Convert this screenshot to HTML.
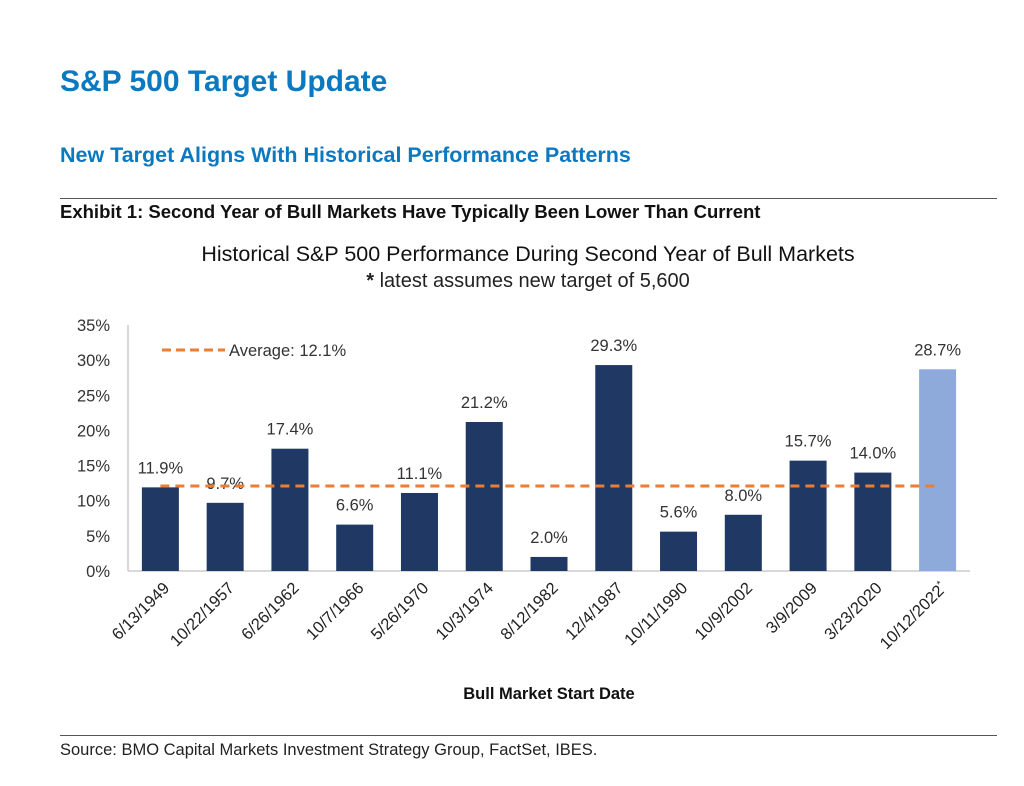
<!DOCTYPE html>
<html><head><meta charset="utf-8"><style>
body{margin:0;background:#fff;width:1024px;height:786px;overflow:hidden;font-family:"Liberation Sans","DejaVu Sans",sans-serif;}
.t{position:absolute;white-space:nowrap;}
</style></head><body>
<div class="t" style="left:60px;top:65px;font-size:30px;font-weight:bold;color:#0b79bf;">S&amp;P 500 Target Update</div>
<div class="t" style="left:60px;top:143px;font-size:21.5px;font-weight:bold;color:#0b79bf;">New Target Aligns With Historical Performance Patterns</div>
<div style="position:absolute;left:60px;top:198px;width:937px;height:1px;background:#555;"></div>
<div class="t" style="left:60px;top:201px;font-size:18.5px;font-weight:bold;color:#111;">Exhibit 1: Second Year of Bull Markets Have Typically Been Lower Than Current</div>
<div class="t" style="left:0;width:1056px;text-align:center;top:242px;font-size:21.5px;color:#111;">Historical S&amp;P 500 Performance During Second Year of Bull Markets</div>
<div class="t" style="left:0;width:1056px;text-align:center;top:270px;font-size:20px;color:#222;"><b>*</b> latest assumes new target of 5,600</div>
<svg id="c" width="1024" height="786" style="position:absolute;left:0;top:0"></svg>
<div style="position:absolute;left:60px;top:735px;width:937px;height:1px;background:#555;"></div>
<div class="t" style="left:60px;top:741px;font-size:16.5px;color:#222;">Source: BMO Capital Markets Investment Strategy Group, FactSet, IBES.</div>
<script>
const categories=["6/13/1949","10/22/1957","6/26/1962","10/7/1966","5/26/1970","10/3/1974","8/12/1982","12/4/1987","10/11/1990","10/9/2002","3/9/2009","3/23/2020","10/12/2022*"];
const values=[11.9,9.7,17.4,6.6,11.1,21.2,2.0,29.3,5.6,8.0,15.7,14.0,28.7];
const average=[12.1];
const yTicks=[0,5,10,15,20,25,30,35];
const NS="http://www.w3.org/2000/svg";
const svg=document.getElementById('c');
const x0=128,x1=970,y0=571,pxPer=(571-325)/35;
const band=(x1-x0)/categories.length;
function xc(i){return x0+band*(i+0.5);}
function y(v){return y0-v*pxPer;}
function mk(t,a){const e=document.createElementNS(NS,t);for(const k in a)e.setAttribute(k,a[k]);svg.appendChild(e);return e;}
let ax=mk('line',{x1:x0,y1:325,x2:x0,y2:y0,stroke:'#ccc','stroke-width':1.5});

let bx=mk('line',{x1:x0,y1:y0,x2:x1,y2:y0,stroke:'#ccc','stroke-width':1.5});

yTicks.forEach(v=>{const t=mk('text',{x:110,y:y(v)+6,'text-anchor':'end','font-size':16.5,fill:'#333'});t.textContent=v+'%';
});
values.forEach((v,i)=>{
const last=i===values.length-1;
const r=mk('rect',{x:xc(i)-18.5,y:y(v),width:37,height:y0-y(v),fill:last?'#8eaadb':'#203864'});

const t=mk('text',{x:xc(i),y:y(v)-14,'text-anchor':'middle','font-size':16.5,fill:'#333'});t.textContent=v.toFixed(1)+'%';

const c=mk('text',{x:0,y:0,'text-anchor':'end','font-size':16.5,fill:'#222',transform:`translate(${xc(i)+10},${y0+18}) rotate(-45)`});
const lab=categories[i];
if(lab.endsWith('*')){c.textContent=lab.slice(0,-1);const s=document.createElementNS(NS,'tspan');s.setAttribute('font-size','10');s.setAttribute('dy','-6');s.textContent='*';c.appendChild(s);}else c.textContent=lab;

});
const avg=mk('line',{x1:xc(0),y1:y(average[0]),x2:xc(categories.length-1)-3,y2:y(average[0]),stroke:'#ed7d31','stroke-width':3,'stroke-dasharray':'9,6'});

const ll=mk('line',{x1:162,y1:350,x2:225,y2:350,stroke:'#ed7d31','stroke-width':3,'stroke-dasharray':'9,5'});

const lt=mk('text',{x:229,y:356,'font-size':16.5,fill:'#333'});lt.textContent='Average: '+average[0]+'%';

const xt=mk('text',{x:549,y:699,'text-anchor':'middle','font-size':16.5,'font-weight':'bold',fill:'#111'});xt.textContent='Bull Market Start Date';

</script>
</body></html>
